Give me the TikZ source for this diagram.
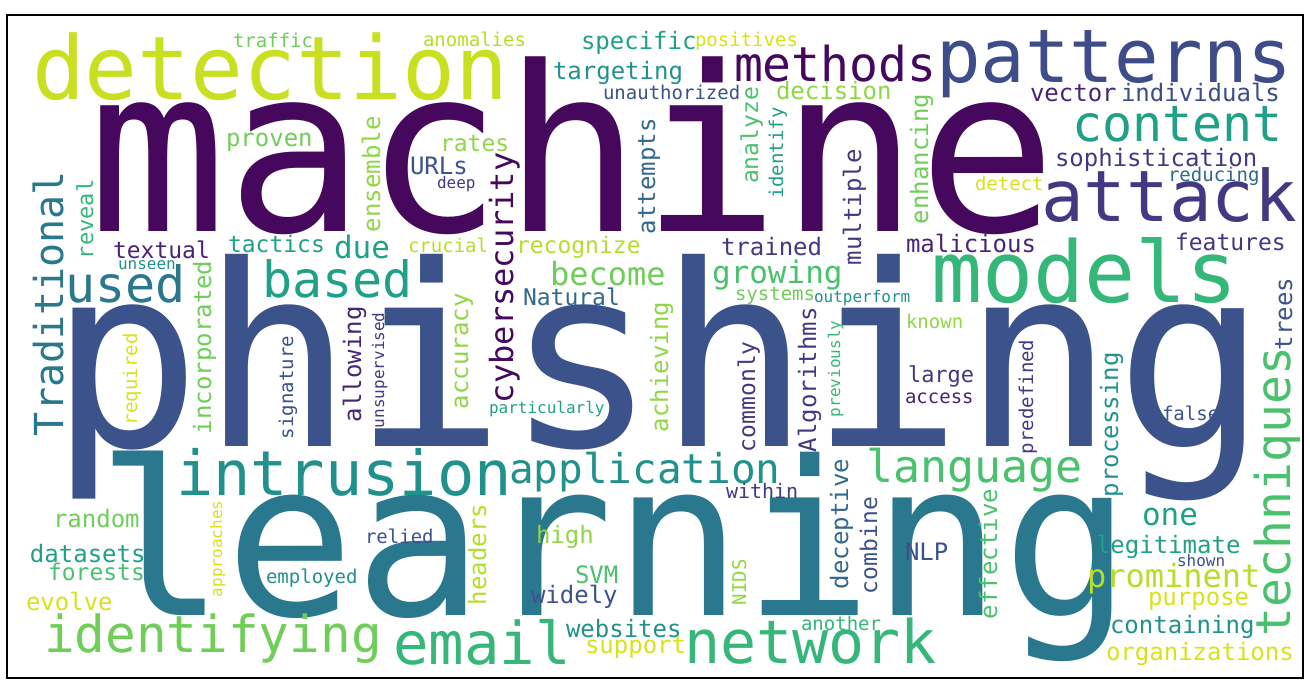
\documentclass[tikz,border=0pt]{standalone}
\usepackage{fontspec}
\newfontfamily\wcfont{DejaVu Sans Mono}
\begin{document}
\begin{tikzpicture}[x=1pt,y=-1pt,
  w/.style={inner sep=0pt, outer sep=0pt, anchor=base west},
  vw/.style={w, rotate=90},
  fs/.style={font={\wcfont\fontsize{#1}{#1}\selectfont}}]
\definecolor{vA}{HTML}{46085C}
\definecolor{vB}{HTML}{482475}
\definecolor{vC}{HTML}{453882}
\definecolor{vD}{HTML}{3E4C8A}
\definecolor{vE}{HTML}{3B528B}
\definecolor{vF}{HTML}{31688E}
\definecolor{vG}{HTML}{2A788E}
\definecolor{vH}{HTML}{21918C}
\definecolor{vI}{HTML}{1FA187}
\definecolor{vJ}{HTML}{35B779}
\definecolor{vK}{HTML}{4AC16D}
\definecolor{vL}{HTML}{6ECE58}
\definecolor{vM}{HTML}{8FD744}
\definecolor{vN}{HTML}{B5DE2B}
\definecolor{vP}{HTML}{C8E020}
\definecolor{vO}{HTML}{D8E219}
\useasboundingbox (0,0) rectangle (1310,682);
\fill[white] (0,0) rectangle (1310,682);
\draw[line width=1.6pt] (7,15) rectangle (1303,678);
% largest words
\node[w,fs=230,vA] (machine) at (88,231) {machine};
\node[w,fs=253,vE] (phishing) at (49,446) {phishing};
\node[w,fs=215,vG] (learning) at (96,615) {learning};
\node[w,fs=88,vP] (detection) at (32,100) {detection};
\node[w,fs=74,vD] (patterns) at (936,83) {patterns};
\node[w,fs=71,vC] (attack) at (1041,222) {attack};
\node[w,fs=85,vJ] (models) at (931,302) {models};
\node[w,fs=48,vA] (methods) at (734,82) {methods};
\node[w,fs=62,vH] (intrusion) at (176,495) {intrusion};
\node[w,fs=41,vH] (application) at (509,483) {application};
\node[w,fs=45,vK] (language) at (866,482) {language};
\node[w,fs=51,vL] (identifying) at (44,652) {identifying};
\node[w,fs=59,vJ] (email) at (393,664) {email};
\node[w,fs=60,vJ] (network) at (684,663) {network};
\node[w,fs=50,vI] (content) at (1072,142) {content};
\node[w,fs=50,vG] (used) at (65,302) {used};
\node[w,fs=50,vI] (based) at (262,297) {based};
\node[vw,fs=48,vK] (techniques) at (1290,636) {techniques};
\node[vw,fs=40,vG] (traditional) at (63,436) {Traditional};
\node[vw,fs=32,vA] (cybersecurity) at (513,403) {cybersecurity};
% medium words
\node[w,fs=31,vK] (growing) at (712,283) {growing};
\node[w,fs=32,vL] (become) at (550,285) {become};
\node[w,fs=31,vI] (due) at (334,258) {due};
\node[w,fs=31,vI] (one) at (1142,525) {one};
\node[w,fs=32,vN] (prominent) at (1087,587) {prominent};
% small horizontal words
\node[w,fs=23,vI] (tactics) at (228,252) {tactics};
\node[w,fs=23,vB] (textual) at (113,258) {textual};
\node[w,fs=16,vH] (unseen) at (118,269) {unseen};
\node[w,fs=24,vL] (proven) at (226,147) {proven};
\node[w,fs=19,vL] (traffic) at (233,48) {traffic};
\node[w,fs=19,vN] (anomalies) at (423,47) {anomalies};
\node[w,fs=24,vI] (specific) at (581,50) {specific};
\node[w,fs=19,vO] (positives) at (695,47) {positives};
\node[w,fs=24,vH] (targeting) at (553,80) {targeting};
\node[w,fs=19,vE] (unauthorized) at (603,100) {unauthorized};
\node[w,fs=24,vM] (decision) at (776,100) {decision};
\node[w,fs=24,vB] (vector) at (1030,102) {vector};
\node[w,fs=24,vD] (individuals) at (1121,102) {individuals};
\node[w,fs=24,vC] (sophistication) at (1055,167) {sophistication};
\node[w,fs=19,vF] (reducing) at (1168,182) {reducing};
\node[w,fs=19,vO] (detect) at (975,190) {detect};
\node[w,fs=24,vE] (urls) at (410,175) {URLs};
\node[w,fs=23,vM] (rates) at (440,152) {rates};
\node[w,fs=16,vC] (deep) at (437,189) {deep};
\node[w,fs=24,vB] (malicious) at (906,252) {malicious};
\node[w,fs=23,vC] (features) at (1175,250) {features};
\node[w,fs=24,vC] (trained) at (721,255) {trained};
\node[w,fs=23,vN] (recognize) at (516,253) {recognize};
\node[w,fs=19,vN] (crucial) at (408,252) {crucial};
\node[w,fs=23,vF] (natural) at (523,305) {Natural};
\node[w,fs=16,vI] (particularly) at (489,413) {particularly};
\node[w,fs=19,vL] (systems) at (735,300) {systems};
\node[w,fs=16,vH] (outperform) at (814,302) {outperform};
\node[w,fs=19,vM] (known) at (906,328) {known};
\node[w,fs=22,vC] (large) at (908,382) {large};
\node[w,fs=19,vB] (access) at (905,403) {access};
\node[w,fs=19,vE] (false) at (1162,420) {false};
\node[w,fs=24,vL] (random) at (53,527) {random};
\node[w,fs=24,vI] (datasets) at (30,562) {datasets};
\node[w,fs=23,vK] (forests) at (48,580) {forests};
\node[w,fs=24,vO] (evolve) at (26,610) {evolve};
\node[w,fs=19,vH] (employed) at (266,583) {employed};
\node[w,fs=19,vE] (relied) at (365,543) {relied};
\node[w,fs=24,vM] (high) at (536,543) {high};
\node[w,fs=24,vK] (svm) at (575,583) {SVM};
\node[w,fs=24,vE] (widely) at (531,603) {widely};
\node[w,fs=24,vH] (websites) at (566,637) {websites};
\node[w,fs=24,vO] (support) at (585,653) {support};
\node[w,fs=20,vC] (within) at (726,498) {within};
\node[w,fs=24,vE] (nlp) at (905,560) {NLP};
\node[w,fs=19,vJ] (another) at (801,630) {another};
\node[w,fs=24,vI] (legitimate) at (1096,553) {legitimate};
\node[w,fs=16,vE] (shown) at (1177,566) {shown};
\node[w,fs=24,vO] (purpose) at (1148,605) {purpose};
\node[w,fs=24,vH] (containing) at (1110,633) {containing};
\node[w,fs=24,vO] (organizations) at (1106,660) {organizations};
% small vertical words
\node[vw,fs=22,vJ] (reveal) at (93,259) {reveal};
\node[vw,fs=24,vM] (ensemble) at (380,232) {ensemble};
\node[vw,fs=24,vF] (attempts) at (655,234) {attempts};
\node[vw,fs=23,vK] (analyze) at (758,184) {analyze};
\node[vw,fs=19,vI] (identify) at (783,199) {identify};
\node[vw,fs=24,vL] (enhancing) at (928,224) {enhancing};
\node[vw,fs=24,vC] (multiple) at (861,265) {multiple};
\node[vw,fs=24,vB] (allowing) at (361,422) {allowing};
\node[vw,fs=16,vC] (unsupervised) at (384,428) {unsupervised};
\node[vw,fs=24,vM] (accuracy) at (468,409) {accuracy};
\node[vw,fs=24,vM] (achieving) at (668,432) {achieving};
\node[vw,fs=23,vC] (commonly) at (755,452) {commonly};
\node[vw,fs=24,vC] (algorithms) at (816,452) {Algorithms};
\node[vw,fs=16,vJ] (previously) at (840,417) {previously};
\node[vw,fs=19,vC] (predefined) at (1033,454) {predefined};
\node[vw,fs=24,vH] (processing) at (1118,497) {processing};
\node[vw,fs=24,vE] (trees) at (1292,350) {trees};
\node[vw,fs=19,vO] (required) at (137,425) {required};
\node[vw,fs=24,vL] (incorporated) at (211,434) {incorporated};
\node[vw,fs=19,vE] (signature) at (293,439) {signature};
\node[vw,fs=16,vO] (approaches) at (222,597) {approaches};
\node[vw,fs=24,vN] (headers) at (486,605) {headers};
\node[vw,fs=24,vF] (deceptive) at (848,589) {deceptive};
\node[vw,fs=23,vE] (combine) at (877,594) {combine};
\node[vw,fs=19,vM] (nids) at (746,605) {NIDS};
\node[vw,fs=24,vK] (effective) at (997,619) {effective};
\end{tikzpicture}
\end{document}
